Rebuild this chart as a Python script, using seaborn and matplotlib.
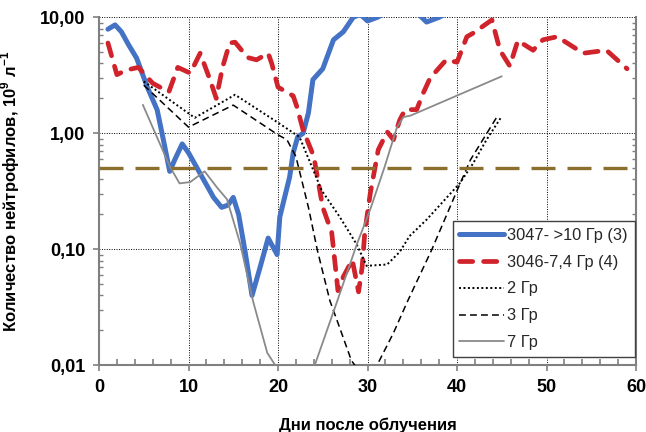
import matplotlib
matplotlib.use("Agg")
import matplotlib.pyplot as plt
import matplotlib.ticker as mticker
import seaborn as sns

# ---- data ----
days_3047 = [1, 1.8, 2.5, 3.3, 4.2, 5.4, 6.5, 7.3, 7.9, 8.5, 9.3, 10, 11.3, 12.8, 13.7, 14.4, 15, 15.6, 16.3,
             17.1, 18, 18.9, 19.9, 20.2, 21.3, 21.7, 22.2, 22.8, 23.4, 23.9, 25, 26.2, 27.3,
             28.4, 29.2, 30, 31.1, 33, 35, 36.6, 38, 39]
vals_3047 = [7.9, 8.6, 7.5, 5.8, 4.45, 2.5, 1.59, 0.8, 0.47, 0.6, 0.81, 0.68, 0.45, 0.28, 0.23, 0.24, 0.28, 0.2, 0.098,
             0.04, 0.07, 0.125, 0.09, 0.19, 0.42, 0.68, 0.93, 1.0, 1.5, 2.9, 3.6, 6.4, 7.5,
             10, 10.6, 9.3, 10, 12, 12, 9.1, 10, 11]

days_3046 = [1, 2, 3, 4.4, 6.0, 7.8, 8.8, 10.2, 11.3, 12.4, 13.1, 13.8, 14.6, 15.2, 16.6, 17.6,
             18.9, 19.3, 20, 21.7, 22.1, 22.8, 24, 25, 26, 26.7, 27.3, 28.3, 29, 29.4, 29.7,
             30.3, 31.2, 32.2, 32.9, 33.6, 34.2, 35.5, 36.2, 37, 38.8, 40, 41.1, 41.8, 43.9,
             44.8, 45.9, 46.8, 48.5, 49.6, 51.2, 54.1, 56.7, 59]
vals_3046 = [6.0, 3.2, 3.5, 3.7, 2.7, 2.27, 3.7, 3.3, 4.9, 2.9, 2.0, 3.7, 6.0, 6.1, 4.5, 4.3,
             4.9, 4.0, 2.5, 2.1, 1.7, 1.07, 0.63, 0.23, 0.14, 0.044, 0.058, 0.081, 0.043, 0.07, 0.14,
             0.3, 0.72, 1.03, 0.88, 1.3, 1.6, 1.6, 2.2, 3.0, 4.3, 4.1, 6.8, 7.3, 9.5,
             5.2, 3.8, 6.3, 5.2, 6.4, 6.8, 4.9, 5.2, 3.6]

days_2gy = [5, 10.7, 15.2, 19.9, 22.4, 24.9, 26.9, 28.8, 29.9, 32.2, 33.6, 34.7, 36.6, 40.3, 41.8, 43.3, 45]
vals_2gy = [2.8, 1.36, 2.15, 1.25, 0.93, 0.32, 0.19, 0.11, 0.072, 0.074, 0.095, 0.13, 0.18, 0.37, 0.55, 0.88, 1.4]

days_3gy = [5, 10, 15, 20, 21, 22, 23.4, 24.4, 25.8, 26.9, 28.2, 29.5, 30.5, 31.2, 32.9, 34.5, 37.2, 40, 41.5, 44.5]
vals_3gy = [2.6, 1.13, 1.75, 0.97, 0.88, 0.63, 0.23, 0.098, 0.036, 0.021, 0.011, 0.008, 0.008, 0.0105, 0.019, 0.036, 0.1, 0.32, 0.59, 1.4]

days_7gy = [4.9, 7.9, 9, 10.2, 11.8, 13.2, 14.3, 15.8, 17.2, 18.8, 19.7, 24.1, 26.4, 28.8, 30.3, 31.9, 33.3, 34, 34.8, 45]
vals_7gy = [1.76, 0.52, 0.37, 0.38, 0.47, 0.34, 0.27, 0.11, 0.036, 0.0128, 0.01, 0.01, 0.032, 0.11, 0.22, 0.51, 1.13, 1.38, 1.42, 3.1]

threshold_days = [0, 60]
threshold_vals = [0.5, 0.5]

labels = ["3047- >10 Гр (3)", "3046-7,4 Гр (4)", "2 Гр", "3 Гр", "7 Гр"]
y_ticks = [0.01, 0.1, 1, 10]
y_ticklabels = ["0,01", "0,10", "1,00", "10,00"]
x_ticks = [0, 10, 20, 30, 40, 50, 60]

# ---- style ----
sns.set_theme(style="white")
plt.rcParams['font.family'] = ['Liberation Sans', 'DejaVu Sans']
plt.rcParams['mathtext.fontset'] = 'custom'
plt.rcParams['mathtext.rm'] = 'Liberation Sans'
plt.rcParams['mathtext.bf'] = 'Liberation Sans:bold'

fig = plt.figure(figsize=(6.46, 4.32), dpi=100)
ax = fig.add_axes([99 / 646, 1 - 365.3 / 432, 537 / 646, 348 / 432])
ax.set_yscale('log')

sns.lineplot(x=days_3047, y=vals_3047, ax=ax, color='#4472C4', linewidth=3.6,
             label=labels[0], solid_capstyle='round', solid_joinstyle='round', zorder=3)
sns.lineplot(x=days_3046, y=vals_3046, ax=ax, color='#D0232B', linewidth=3.4,
             linestyle=(0, (2.8, 2.3)), dash_capstyle='round', dash_joinstyle='round',
             label=labels[1], zorder=4)
sns.lineplot(x=days_2gy, y=vals_2gy, ax=ax, color='black', linewidth=1.4,
             linestyle=(0, (1, 1.3)), label=labels[2], zorder=5)
sns.lineplot(x=days_3gy, y=vals_3gy, ax=ax, color='black', linewidth=1.1,
             linestyle=(0, (4.5, 2.7)), label=labels[3], zorder=5)
sns.lineplot(x=days_7gy, y=vals_7gy, ax=ax, color='#8A8A8A', linewidth=1.3,
             label=labels[4], zorder=5)
sns.lineplot(x=threshold_days, y=threshold_vals, ax=ax, color='#8C6E2D', linewidth=2.4,
             linestyle=(0, (7.2, 3.6)), zorder=6)

ax.set_xlim(0, 60)
ax.set_ylim(0.01, 10)

ax.xaxis.set_major_locator(mticker.FixedLocator(x_ticks))
ax.xaxis.set_minor_locator(mticker.MultipleLocator(2))
ax.yaxis.set_major_locator(mticker.FixedLocator(y_ticks))
ax.yaxis.set_major_formatter(mticker.FixedFormatter(y_ticklabels))
ax.yaxis.set_minor_locator(mticker.LogLocator(base=10, subs=range(2, 10)))
ax.yaxis.set_minor_formatter(mticker.NullFormatter())

ax.grid(True, which='major', color='black', linestyle=(0, (1, 1.5)), linewidth=0.7)
ax.grid(False, which='minor')

spine_c = '#808080'
for s in ['left', 'bottom', 'right']:
    ax.spines[s].set_visible(True)
    ax.spines[s].set_color(spine_c)
    ax.spines[s].set_linewidth(1.5)
ax.spines['top'].set_visible(False)

ax.tick_params(axis='x', which='major', direction='out', length=4, width=1.2, color=spine_c,
               labelsize=13, pad=6, bottom=True)
ax.tick_params(axis='x', which='minor', direction='in', length=4, width=1.2, color=spine_c, bottom=True)
ax.tick_params(axis='y', which='major', direction='out', length=4, width=1.2, color=spine_c,
               labelsize=13, pad=6, left=True)
ax.tick_params(axis='y', which='minor', direction='in', length=3, width=1.0, color=spine_c,
               left=True, right=True)
for lab in ax.get_xticklabels() + ax.get_yticklabels():
    lab.set_fontweight('bold')
    lab.set_color('black')

ax.set_xlabel("Дни после облучения", fontsize=12, fontweight='bold', color='black')
ax.set_ylabel(r"Количество нейтрофилов, 10$^{\mathbf{9}}$ л$^{\mathbf{-1}}$", fontsize=12,
              fontweight='bold', color='black')
ax.xaxis.set_label_coords(0.5, -0.151)
ax.yaxis.set_label_coords(-0.143, 0.5)

leg = ax.legend(loc='lower left', bbox_to_anchor=(0.659, 0.025), borderaxespad=0,
                fontsize=11.8, handlelength=2.7, handletextpad=0.23, labelspacing=0.72,
                borderpad=0.4, frameon=True, fancybox=False, framealpha=1)
leg.get_frame().set_edgecolor('#404040')
leg.get_frame().set_linewidth(1.0)
leg.set_zorder(10)

fig.savefig("out.png", dpi=100)
